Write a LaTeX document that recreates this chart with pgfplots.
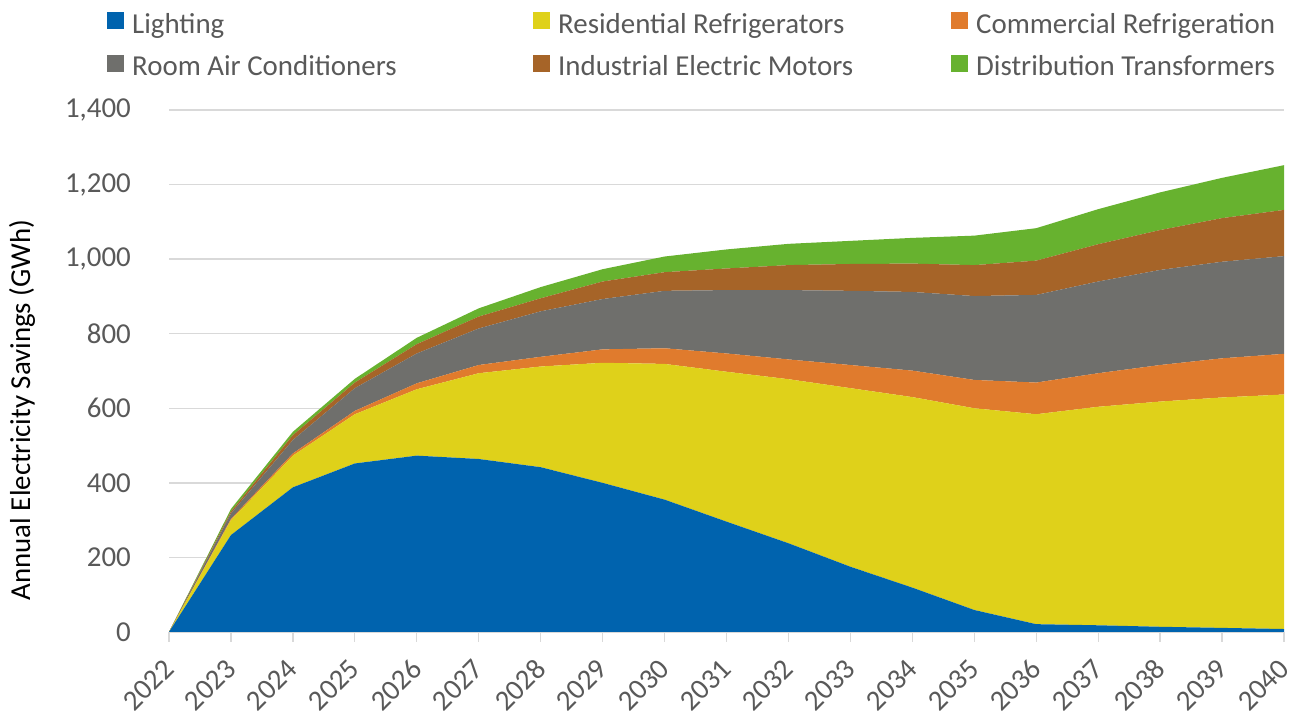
\documentclass[border=0pt]{standalone}
\usepackage{pgfplots}
\pgfplotsset{compat=1.18}
\usepackage{pgfplotstable}
\usepackage{fontspec}
\setmainfont{Carlito}
\definecolor{cL}{HTML}{0063AE}
\definecolor{cR}{HTML}{DFD11A}
\definecolor{cC}{HTML}{E07B2D}
\definecolor{cA}{HTML}{6F6F6C}
\definecolor{cM}{HTML}{A66428}
\definecolor{cT}{HTML}{67B22F}
\definecolor{txt}{HTML}{595959}
\definecolor{gridc}{HTML}{D9D9D9}

\pgfplotstableread{
year L R C A M T
2022 0 0 0 0 0 0
2023 260 40 3 15 5 7
2024 388 85 6 36 13 9
2025 452 132 9 61 15 10
2026 473 178 16 80 25 17
2027 464 230 22 98 32 22
2028 442 270 26 122 35 30
2029 400 322 36 135 47 33
2030 355 364 42 154 50 42
2031 296 402 49 170 58 51
2032 238 440 53 186 67 57
2033 175 479 62 199 72 62
2034 119 511 71 211 76 69
2035 59 541 76 225 83 79
2036 21 563 85 235 92 87
2037 18 586 90 246 100 94
2038 14 604 98 255 107 101
2039 11 618 105 259 117 108
2040 8 629 109 262 124 120
}\data

\newcommand{\lstrut}{\rule[-9bp]{0pt}{40bp}}
\begin{document}
\begin{tikzpicture}
\path[use as bounding box] (0bp,0bp) rectangle (1301bp,717bp);
\begin{axis}[
  at={(169bp,85bp)}, anchor=south west,
  scale only axis, width=1115bp, height=522bp,
  xmin=2022, xmax=2040, ymin=0, ymax=1400,
  xtick={2022,2023,...,2040},
  ytick={0,200,...,1400},
  stack plots=y,
  axis lines*=left,
  axis line style={-},
  x axis line style={draw=gridc, line width=1.3bp},
  y axis line style={draw=none},
  ymajorgrids,
  grid style={draw=gridc, line width=1.3bp},
  tick align=outside,
  major tick length=10bp,
  xtick style={draw=gridc, line width=1.3bp},
  ytick style={draw=none},
  /pgf/number format/assume math mode=true,
  tick label style={font=\fontsize{29}{35}\selectfont, text=txt, inner sep=0pt},
  xticklabel shift=22bp,
  xticklabel style={rotate=45, anchor=east, /pgf/number format/1000 sep={}},
  yticklabel style={anchor=east, xshift=-28bp, /pgf/number format/1000 sep={,}},
  ylabel={Annual Electricity Savings (GWh)},
  ylabel style={at={(axis description cs:-0.1318,0.4253)}, anchor=center, font=\fontsize{29}{35}\selectfont, text=black},
  legend style={at={(axis description cs:-0.0556,1.2069)}, anchor=north west, draw=none, fill=none, inner sep=0pt,
    nodes={inner sep=0pt}, font=\fontsize{29}{35}\selectfont, text=txt, row sep=10bp,
    /tikz/every odd column/.append style={column sep=8bp}},
  legend columns=3,
  legend cell align=left,
  legend image code/.code={\fill[#1] (0bp,-11bp) rectangle (17bp,6bp);},
]
\addplot[fill=cL, draw=none] table[x=year, y=L]{\data} \closedcycle;
\addlegendentry{\makebox[401bp][l]{\lstrut Lighting}}
\addplot[fill=cR, draw=none] table[x=year, y=R]{\data} \closedcycle;
\addlegendentry{\makebox[393bp][l]{\lstrut Residential Refrigerators}}
\addplot[fill=cC, draw=none] table[x=year, y=C]{\data} \closedcycle;
\addlegendentry{\lstrut Commercial Refrigeration}
\addplot[fill=cA, draw=none] table[x=year, y=A]{\data} \closedcycle;
\addlegendentry{\makebox[401bp][l]{\lstrut Room Air Conditioners}}
\addplot[fill=cM, draw=none] table[x=year, y=M]{\data} \closedcycle;
\addlegendentry{\makebox[393bp][l]{\lstrut Industrial Electric Motors}}
\addplot[fill=cT, draw=none] table[x=year, y=T]{\data} \closedcycle;
\addlegendentry{\lstrut Distribution Transformers}
\end{axis}
\end{tikzpicture}
\end{document}
